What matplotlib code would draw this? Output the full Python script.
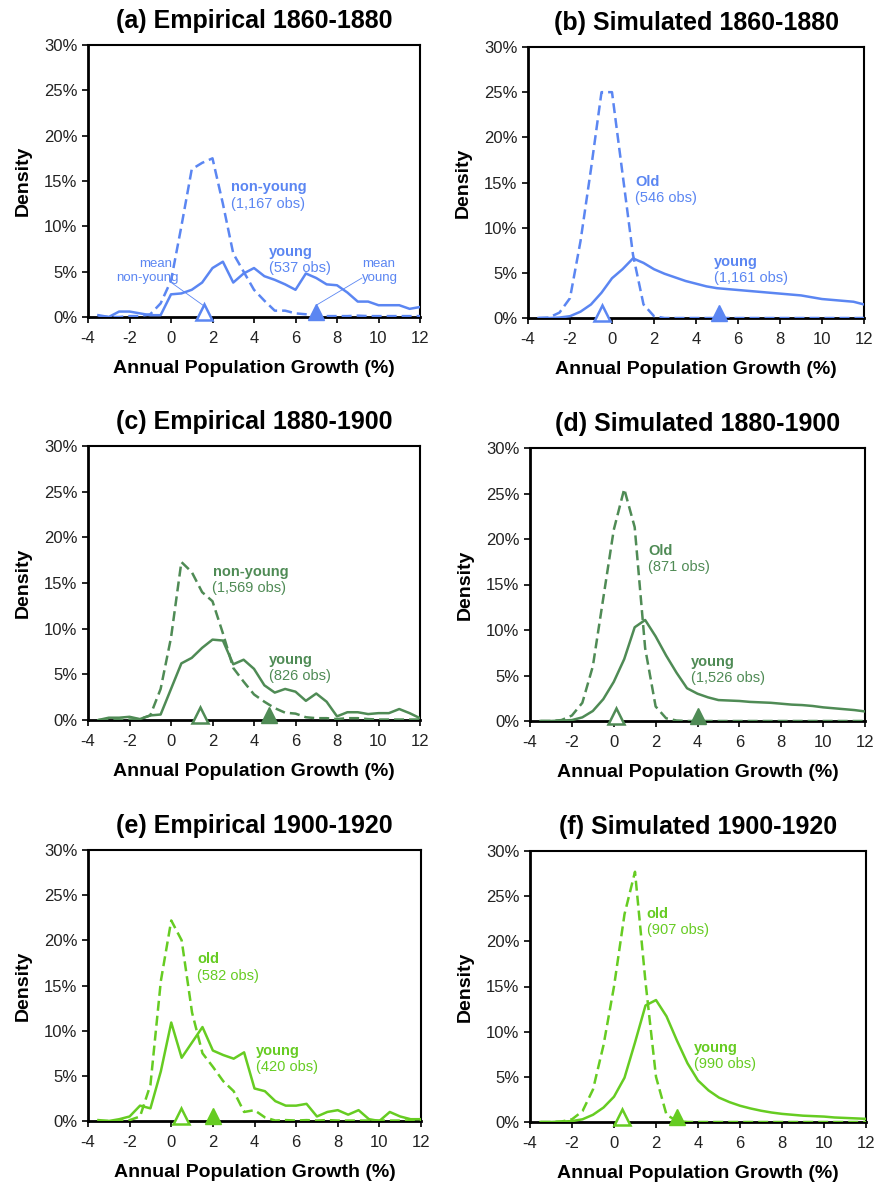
import matplotlib
matplotlib.use('Agg')
import matplotlib.pyplot as plt
from matplotlib import transforms
from matplotlib.ticker import FuncFormatter

plt.rcParams['font.family'] = ['Liberation Sans', 'DejaVu Sans']
plt.rcParams['axes.unicode_minus'] = False

# growth bins (%), shared by every panel
growth = [-3.5, -3.0, -2.5, -2.0, -1.5, -1.0, -0.5, 0.0, 0.5, 1.0, 1.5, 2.0,
          2.5, 3.0, 3.5, 4.0, 4.5, 5.0, 5.5, 6.0, 6.5, 7.0, 7.5, 8.0,
          8.5, 9.0, 9.5, 10.0, 10.5, 11.0, 11.5, 12.0]

# densities in percent
emp1860_young = [0.2, 0.0, 0.6, 0.6, 0.4, 0.2, 0.2, 2.5, 2.6, 3.0, 3.8, 5.4,
                 6.1, 3.8, 4.8, 5.4, 4.5, 4.1, 3.6, 3.0, 4.8, 4.3, 3.6, 3.5,
                 2.7, 1.7, 1.7, 1.3, 1.3, 1.3, 0.9, 1.1]
emp1860_old = [0.1, 0.0, 0.0, 0.1, 0.1, 0.3, 1.5, 4.0, 10.0, 16.3, 17.0, 17.5,
               12.5, 7.0, 5.0, 3.0, 1.8, 0.7, 0.7, 0.4, 0.3, 0.2, 0.1, 0.1,
               0.1, 0.15, 0.1, 0.1, 0.1, 0.1, 0.1, 0.1]
sim1860_young = [0.0, 0.0, 0.05, 0.2, 0.7, 1.5, 2.8, 4.4, 5.4, 6.6, 6.1, 5.4,
                 4.9, 4.5, 4.1, 3.8, 3.5, 3.3, 3.2, 3.1, 3.0, 2.9, 2.8, 2.7,
                 2.6, 2.5, 2.3, 2.1, 2.0, 1.9, 1.8, 1.5]
sim1860_old = [0.0, 0.05, 0.6, 2.2, 8.5, 16.5, 25.0, 25.0, 16.0, 7.0, 1.5, 0.2,
               0.0, 0.0, 0.0, 0.0, 0.0, 0.0, 0.0, 0.0, 0.0, 0.0, 0.0, 0.0,
               0.0, 0.0, 0.0, 0.0, 0.0, 0.0, 0.0, 0.0]
emp1880_young = [0.0, 0.25, 0.25, 0.35, 0.1, 0.5, 0.6, 3.4, 6.2, 6.8, 7.9, 8.8,
                 8.7, 6.1, 6.6, 5.6, 3.8, 3.0, 3.4, 3.1, 2.1, 2.9, 2.0, 0.4,
                 0.85, 0.85, 0.65, 0.75, 0.75, 1.2, 0.75, 0.2]
emp1880_old = [0.0, 0.0, 0.0, 0.05, 0.1, 0.5, 3.4, 9.0, 17.3, 16.2, 14.0, 13.0,
               9.5, 5.7, 4.2, 2.8, 2.0, 1.3, 0.8, 0.7, 0.3, 0.2, 0.2, 0.1,
               0.2, 0.2, 0.1, 0.05, 0.05, 0.05, 0.05, 0.05]
sim1880_young = [0.0, 0.0, 0.05, 0.1, 0.4, 1.1, 2.4, 4.3, 6.8, 10.3, 11.1, 9.3,
                 7.2, 5.3, 3.6, 3.0, 2.6, 2.3, 2.25, 2.2, 2.1, 2.05, 2.0, 1.9,
                 1.8, 1.75, 1.65, 1.5, 1.4, 1.3, 1.2, 1.05]
sim1880_old = [0.0, 0.0, 0.1, 0.6, 2.0, 6.0, 13.5, 21.0, 25.5, 21.3, 8.0, 1.6,
               0.3, 0.05, 0.0, 0.0, 0.0, 0.0, 0.0, 0.0, 0.0, 0.0, 0.0, 0.0,
               0.0, 0.0, 0.0, 0.0, 0.0, 0.0, 0.0, 0.0]
emp1900_young = [0.1, 0.0, 0.2, 0.5, 1.7, 1.4, 5.5, 10.9, 7.0, 8.7, 10.4, 7.8,
                 7.3, 6.9, 7.6, 3.6, 3.3, 2.2, 1.7, 1.7, 1.9, 0.5, 1.0, 1.2,
                 0.7, 1.2, 0.2, 0.0, 1.0, 0.5, 0.2, 0.2]
emp1900_old = [0.0, 0.0, 0.05, 0.1, 0.5, 4.0, 15.5, 22.2, 20.0, 12.0, 7.5, 6.0,
               4.4, 3.3, 1.0, 1.2, 0.4, 0.05, 0.1, 0.05, 0.1, 0.05, 0.1, 0.05,
               0.05, 0.05, 0.05, 0.05, 0.05, 0.05, 0.05, 0.05]
sim1900_young = [0.0, 0.0, 0.05, 0.1, 0.3, 0.8, 1.6, 2.8, 4.9, 8.8, 12.9, 13.5,
                 11.7, 9.0, 6.5, 4.6, 3.5, 2.7, 2.2, 1.8, 1.5, 1.25, 1.05, 0.9,
                 0.8, 0.7, 0.65, 0.6, 0.5, 0.45, 0.4, 0.35]
sim1900_old = [0.0, 0.0, 0.05, 0.3, 1.2, 3.6, 8.5, 15.0, 23.0, 27.7, 15.5, 5.0,
               0.8, 0.1, 0.0, 0.0, 0.0, 0.0, 0.0, 0.0, 0.0, 0.0, 0.0, 0.0,
               0.0, 0.0, 0.0, 0.0, 0.0, 0.0, 0.0, 0.0]

# group means (%): [old / non-young, young]
means = {
    'a': [1.6, 7.0], 'b': [-0.5, 5.1],
    'c': [1.4, 4.7], 'd': [0.1, 4.0],
    'e': [0.45, 2.0], 'f': [0.4, 3.0],
}

titles = {
    'a': '(a) Empirical 1860-1880', 'b': '(b) Simulated 1860-1880',
    'c': '(c) Empirical 1880-1900', 'd': '(d) Simulated 1880-1900',
    'e': '(e) Empirical 1900-1920', 'f': '(f) Simulated 1900-1920',
}

series = {
    'a': (emp1860_young, emp1860_old), 'b': (sim1860_young, sim1860_old),
    'c': (emp1880_young, emp1880_old), 'd': (sim1880_young, sim1880_old),
    'e': (emp1900_young, emp1900_old), 'f': (sim1900_young, sim1900_old),
}

# (name, count) labels: old group then young group
labels = {
    'a': [('non-young', '(1,167 obs)'), ('young', '(537 obs)')],
    'b': [('Old', '(546 obs)'), ('young', '(1,161 obs)')],
    'c': [('non-young', '(1,569 obs)'), ('young', '(826 obs)')],
    'd': [('Old', '(871 obs)'), ('young', '(1,526 obs)')],
    'e': [('old', '(582 obs)'), ('young', '(420 obs)')],
    'f': [('old', '(907 obs)'), ('young', '(990 obs)')],
}

BLUE = '#5b86f2'
GREEN = '#4f8b55'
LIME = '#66cc22'
colors = {'a': BLUE, 'b': BLUE, 'c': GREEN, 'd': GREEN, 'e': LIME, 'f': LIME}

W, H = 874, 1184
# axes boxes in pixels: left, top, right, bottom
boxes = {
    'a': (88, 45, 420, 317), 'b': (528, 47, 864, 318),
    'c': (88, 446, 420, 720), 'd': (530, 448, 865, 721),
    'e': (88, 850, 421, 1121), 'f': (530, 851, 866, 1122),
}

# where the group labels sit (data coords): old, young
label_pos = {
    'a': [(2.9, 14.3), (4.7, 7.2)], 'b': [(1.1, 15.1), (4.85, 6.2)],
    'c': [(2.0, 16.2), (4.7, 6.6)], 'd': [(1.65, 18.7), (3.7, 6.5)],
    'e': [(1.25, 17.9), (4.05, 7.8)], 'f': [(1.55, 23.0), (3.8, 8.2)],
}

fig = plt.figure(figsize=(W / 100, H / 100), dpi=100)

for key in 'abcdef':
    l, t, r, b = boxes[key]
    ax = fig.add_axes([l / W, 1 - b / H, (r - l) / W, (b - t) / H])
    col = colors[key]
    young, old = series[key]

    ax.plot(growth, old, color=col, lw=1.8, ls=(0, (4, 2)), zorder=3)
    ax.plot(growth, young, color=col, lw=1.8, zorder=4)

    # mean markers sitting on the x axis
    off = transforms.offset_copy(ax.transData, fig=fig, y=5.5, units='dots')
    m_old, m_young = means[key]
    ax.plot([m_old], [0], marker='^', ms=11, mfc='white', mec=col, mew=1.8,
            transform=off, clip_on=False, zorder=6)
    ax.plot([m_young], [0], marker='^', ms=11, mfc=col, mec=col, mew=1.0,
            transform=off, clip_on=False, zorder=6)

    for (name, obs), (lx, ly) in zip(labels[key], label_pos[key]):
        ax.text(lx, ly, name, color=col, fontsize=10.5, fontweight='bold', va='center')
        ax.text(lx, ly - 1.8, obs, color=col, fontsize=10.5, va='center')

    if key == 'a':
        ax.text(-0.75, 5.9, 'mean', color=col, fontsize=9.5, ha='center', va='center')
        ax.text(-1.15, 4.3, 'non-young', color=col, fontsize=9.5, ha='center', va='center')
        ax.plot([-0.05, m_old], [3.9, 1.2], color=col, lw=0.6, zorder=2)
        ax.text(9.2, 5.9, 'mean', color=col, fontsize=9.5, ha='left', va='center')
        ax.text(9.2, 4.3, 'young', color=col, fontsize=9.5, ha='left', va='center')
        ax.plot([9.2, m_young], [4.3, 1.3], color=col, lw=0.6, zorder=2)

    ax.set_xlim(-4, 12)
    ax.set_ylim(0, 30)
    ax.set_xticks(range(-4, 13, 2))
    ax.set_yticks(range(0, 31, 5))
    ax.yaxis.set_major_formatter(FuncFormatter(lambda v, p: '%d%%' % v))
    ax.tick_params(labelsize=12, length=4, width=1.2, color='black',
                   labelcolor='#222222', direction='out')
    ax.tick_params(axis='x', pad=6)
    for side in ['top', 'right']:
        ax.spines[side].set_linewidth(1.5)
    for side in ['left', 'bottom']:
        ax.spines[side].set_linewidth(2.0)

    ax.set_title(titles[key], fontsize=18, fontweight='bold', pad=12)
    ax.set_xlabel('Annual Population Growth (%)', fontsize=14, fontweight='bold', labelpad=10)
    ax.set_ylabel('Density', fontsize=14, fontweight='bold', labelpad=9)

fig.savefig('out.png', dpi=100)
